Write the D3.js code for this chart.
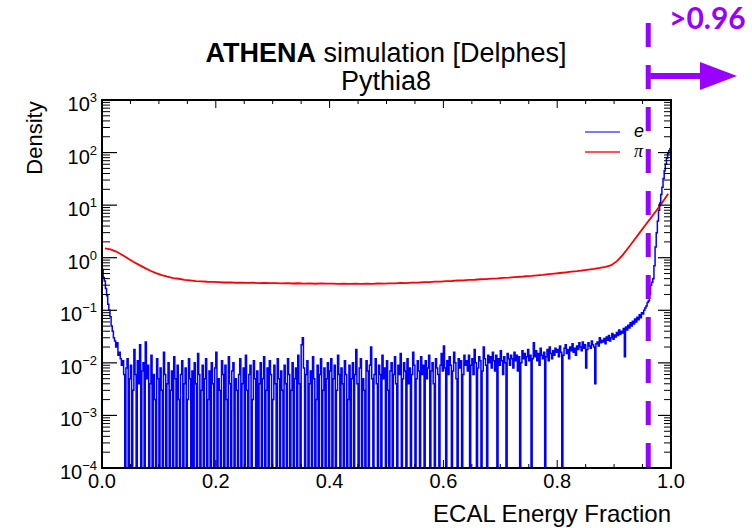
<!DOCTYPE html>
<html>
<head>
<meta charset="utf-8">
<script src="https://cdn.jsdelivr.net/npm/d3@7"></script>
<style>
  body { margin: 0; background: #fff; }
  svg { display: block; }
</style>
</head>
<body>
<div id="chart"></div>
<script>
// ---- data ----
var xTickValues = [0, 0.2, 0.4, 0.6, 0.8, 1.0];
var xTickLabels = ["0.0", "0.2", "0.4", "0.6", "0.8", "1.0"];
var yTickExponents = [-4, -3, -2, -1, 0, 1, 2, 3];
var seriesNames = ["e", "\u03c0"];
var cutValue = 0.96;
var cutLabel = ">0.96";

// electrons, 500 bins of 0.002 (0 = empty bin), one row = 0.04
var eBinWidth = 0.002;
var eValues = [
  .6,.42,.36,.26,.19,.13,.1,.075,.05,.04,.03,.026,.02,.024,.014,.016,.012,.009,.011,.006,
  0,.008,.012,0,.005,.009,0,.003,.018,.006,0,.011,.004,.022,0,.007,.01,0,.025,.005,
  .009,0,.004,.014,0,.006,.002,0,.012,.005,0,.008,.003,0,.016,.006,0,.004,.01,0,
  .003,.007,0,.013,.005,0,.009,.002,0,.006,.011,0,.004,.008,0,.002,.012,.005,0,.007,
  0,.01,.004,0,.015,.006,0,.003,.009,0,.005,.012,0,.002,.007,0,.01,.004,0,.008,
  .016,0,.005,.003,0,.011,.006,0,.009,.002,0,.013,.004,0,.007,.01,0,.005,.003,0,
  .006,.012,0,.004,.008,0,.014,.003,0,.006,.009,0,.002,.011,.005,0,.007,0,.004,.01,
  0,.005,.013,0,.003,.008,0,.011,.006,0,.002,.009,.004,0,.012,.005,0,.007,.003,0,
  .009,.004,0,.012,.006,0,.003,.01,0,.005,.008,0,.014,.004,0,.022,.03,.008,0,.006,
  .011,0,.004,.007,0,.013,.005,0,.002,.009,0,.006,.012,0,.003,.008,0,.005,.01,0,
  .007,.012,0,.005,.009,0,.003,.014,.006,0,.008,.004,0,.011,.006,0,.002,.009,0,.005,
  .01,0,.006,.018,.004,0,.008,.012,0,.005,.003,0,.011,.007,0,.009,.02,.005,0,.006,
  .012,.004,0,.009,.006,0,.014,.005,.008,0,.011,.003,0,.007,.01,0,.006,.013,.004,0,
  .009,.006,.015,0,.005,.01,.007,0,.012,.004,.008,0,.006,.016,.009,0,.005,.011,.007,0,
  .013,.006,.009,0,.011,.005,.008,.014,0,.007,.01,.004,0,.012,.008,.006,0,.009,.015,.007,
  .021,.008,0,.011,.006,.013,.009,0,.007,.016,.01,.005,0,.012,.008,.011,0,.006,.014,.009,
  .011,.007,.014,0,.009,.012,.006,.018,.01,0,.008,.013,.011,0,.007,.02,.012,.009,0,.014,
  .01,.013,.008,.016,.011,.007,.014,0,.012,.009,.017,.011,.006,.013,.01,0,.015,.012,.009,.014,
  .012,.008,.016,.011,.014,.007,.013,0,.01,.017,.012,.015,.009,.013,.018,.011,.014,0,.012,.024,
  .013,.017,.011,.015,.009,.019,.014,.012,.016,0,.013,.018,.011,.02,.015,.012,.017,.014,.019,.016,
  .018,.013,.021,.016,0,.014,.019,.022,.015,.018,.012,.02,.017,.023,.016,.019,.014,.021,.018,.024,
  .02,.017,.025,.019,.022,.008,.018,.024,.021,.019,.026,.022,.02,.004,.023,.025,.021,.03,.024,.027,
  .025,.029,.023,.031,.027,.033,.026,.03,.036,.028,.034,.031,.038,.033,.042,.035,.04,.037,.045,.013,
  .048,.042,.052,.046,.058,.05,.062,.055,.068,.06,.074,.066,.082,.072,.09,.085,.1,.11,.12,.14,
  .15,.2,.3,.34,.4,.7,1.6,3,5,8,11,16,22,32,45,60,78,95,108,118
];

// pions, 100 bins of 0.01
var piBinWidth = 0.01;
var piValues = [
  1.50, 1.44, 1.31, 1.14, 0.98, 0.84, 0.73, 0.64, 0.565, 0.51,
  0.465, 0.435, 0.41, 0.398, 0.38, 0.372, 0.36, 0.356, 0.349, 0.346,
  0.343, 0.338, 0.341, 0.334, 0.337, 0.331, 0.334, 0.329, 0.332, 0.328,
  0.330, 0.326, 0.329, 0.323, 0.327, 0.322, 0.325, 0.320, 0.324, 0.321,
  0.322, 0.318, 0.321, 0.317, 0.320, 0.318, 0.322, 0.319, 0.323, 0.321,
  0.326, 0.325, 0.331, 0.330, 0.337, 0.336, 0.344, 0.343, 0.351, 0.352,
  0.359, 0.361, 0.369, 0.370, 0.378, 0.381, 0.389, 0.392, 0.400, 0.404,
  0.413, 0.418, 0.428, 0.434, 0.444, 0.451, 0.463, 0.472, 0.486, 0.498,
  0.512, 0.526, 0.543, 0.556, 0.574, 0.592, 0.612, 0.638, 0.672, 0.72,
  0.86, 1.12, 1.55, 2.15, 3.0, 4.2, 5.8, 8.1, 11.3, 16.5
];

// ---- layout ----
var W = 752, H = 528;
var margin = {top: 100, left: 102, right: 81, bottom: 60};
var width = W - margin.left - margin.right,
    height = H - margin.top - margin.bottom;
var font = "'Liberation Sans', Arial, Helvetica, sans-serif";
var purple = "#9a00ff";

var svg = d3.select("#chart").append("svg")
    .attr("width", W)
    .attr("height", H)
    .style("font-family", font);

var x = d3.scaleLinear().domain([0, 1]).range([margin.left, margin.left + width]);
var y = d3.scaleLog().domain([1e-4, 1e3]).range([margin.top + height, margin.top]);

svg.append("clipPath").attr("id", "frame")
  .append("rect")
    .attr("x", margin.left).attr("y", margin.top)
    .attr("width", width).attr("height", height);

var eData = eValues.map(function (v, i) { return {x: (i + 0.5) * eBinWidth, v: v}; });
var piData = piValues.map(function (v, i) { return {x: (i + 0.5) * piBinWidth, v: v}; });

function yv(v) { return v > 0 ? y(v) : y(1e-5); }

var plot = svg.append("g").attr("clip-path", "url(#frame)");

plot.append("path")
    .datum(piData)
    .attr("fill", "none")
    .attr("stroke", "#ff0000")
    .attr("stroke-width", 1.8)
    .attr("d", d3.line().x(function (d) { return x(d.x); }).y(function (d) { return yv(d.v); }));

plot.append("path")
    .datum(eData)
    .attr("fill", "none")
    .attr("stroke", "#0000ff")
    .attr("stroke-width", 1.5)
    .attr("d", d3.line().curve(d3.curveStep).x(function (d) { return x(d.x); }).y(function (d) { return yv(d.v); }));

// ---- axes (ROOT style, ticks on all four sides) ----
var axes = svg.append("g").attr("stroke", "#000");
var x0 = margin.left, x1 = margin.left + width, y0 = margin.top + height, y1 = margin.top;

var xMinor = d3.range(0, 1.0001, 0.05);
xMinor.forEach(function (t) {
  var major = Math.abs(t * 5 - Math.round(t * 5)) < 1e-6;
  var len = major ? 8 : 4;
  axes.append("line").attr("x1", x(t)).attr("x2", x(t)).attr("y1", y0).attr("y2", y0 - len).attr("stroke-width", 1);
  axes.append("line").attr("x1", x(t)).attr("x2", x(t)).attr("y1", y1).attr("y2", y1 + len).attr("stroke-width", 1);
});

yTickExponents.forEach(function (e) {
  var base = Math.pow(10, e);
  axes.append("line").attr("x1", x0).attr("x2", x0 + 15).attr("y1", y(base)).attr("y2", y(base)).attr("stroke-width", 1.2);
  axes.append("line").attr("x1", x1).attr("x2", x1 - 13).attr("y1", y(base)).attr("y2", y(base)).attr("stroke-width", 1.2);
  if (e < 3) {
    d3.range(2, 10).forEach(function (m) {
      var v = m * base;
      axes.append("line").attr("x1", x0).attr("x2", x0 + 8).attr("y1", y(v)).attr("y2", y(v)).attr("stroke-width", 1);
      axes.append("line").attr("x1", x1).attr("x2", x1 - 7).attr("y1", y(v)).attr("y2", y(v)).attr("stroke-width", 1);
    });
  }
});

axes.append("rect")
    .attr("x", x0).attr("y", y1)
    .attr("width", width).attr("height", height)
    .attr("fill", "none")
    .attr("stroke-width", 2);

// tick labels
svg.append("g").selectAll("text")
  .data(xTickValues)
  .enter().append("text")
    .attr("x", function (d) { return x(d); })
    .attr("y", y0 + 20)
    .attr("text-anchor", "middle")
    .attr("font-size", 20)
    .text(function (d, i) { return xTickLabels[i]; });

var yl = svg.append("g").selectAll("text")
  .data(yTickExponents)
  .enter().append("text")
    .attr("x", x0 - 5)
    .attr("y", function (d) { return y(Math.pow(10, d)) + 11; })
    .attr("text-anchor", "end")
    .attr("font-size", 20);
yl.append("tspan").text("10");
yl.append("tspan")
    .attr("font-size", 13)
    .attr("dy", -9)
    .text(function (d) { return d < 0 ? "\u2212" + (-d) : String(d); });

// axis titles
svg.append("text")
    .attr("x", x1)
    .attr("y", 522)
    .attr("text-anchor", "end")
    .attr("font-size", 24)
    .text("ECAL Energy Fraction");

svg.append("text")
    .attr("transform", "translate(42," + 138 + ") rotate(-90)")
    .attr("text-anchor", "middle")
    .attr("font-size", 22)
    .text("Density");

// title
var title = svg.append("text")
    .attr("x", 386)
    .attr("y", 62)
    .attr("text-anchor", "middle")
    .attr("font-size", 27);
title.append("tspan").attr("font-weight", "bold").text("ATHENA");
title.append("tspan").text(" simulation [Delphes]");

svg.append("text")
    .attr("x", 386)
    .attr("y", 90)
    .attr("text-anchor", "middle")
    .attr("font-size", 27)
    .text("Pythia8");

// legend
var legend = svg.append("g");
[["#0000ff", 132], ["#ff0000", 152]].forEach(function (s, i) {
  legend.append("line")
      .attr("x1", 585).attr("x2", 620)
      .attr("y1", s[1]).attr("y2", s[1])
      .attr("stroke", s[0]).attr("stroke-width", 1.5)
      .attr("stroke-opacity", i === 0 ? 0.7 : 0.9);
  legend.append("text")
      .attr("x", 634)
      .attr("y", s[1] + 5)
      .attr("font-size", 18)
      .attr("font-style", "italic")
      .attr("font-family", i === 0 ? font : "'Liberation Serif', 'DejaVu Serif', serif")
      .text(seriesNames[i]);
});

// cut marker
var xc = x(cutValue);
svg.append("line")
    .attr("x1", xc).attr("x2", xc)
    .attr("y1", 23).attr("y2", y0)
    .attr("stroke", purple)
    .attr("stroke-width", 5)
    .attr("stroke-dasharray", "24,18");

svg.append("rect")
    .attr("x", xc + 2).attr("y", 73)
    .attr("width", 700 - xc - 2).attr("height", 6)
    .attr("fill", purple);
svg.append("path")
    .attr("d", "M700,62 L737,76 L700,90 Z")
    .attr("fill", purple);

svg.append("text")
    .attr("x", 669)
    .attr("y", 29)
    .attr("font-family", "Lato, 'Open Sans', sans-serif")
    .attr("font-weight", "bold")
    .attr("font-size", 30)
    .attr("fill", purple)
    .text(cutLabel);
</script>
</body>
</html>
